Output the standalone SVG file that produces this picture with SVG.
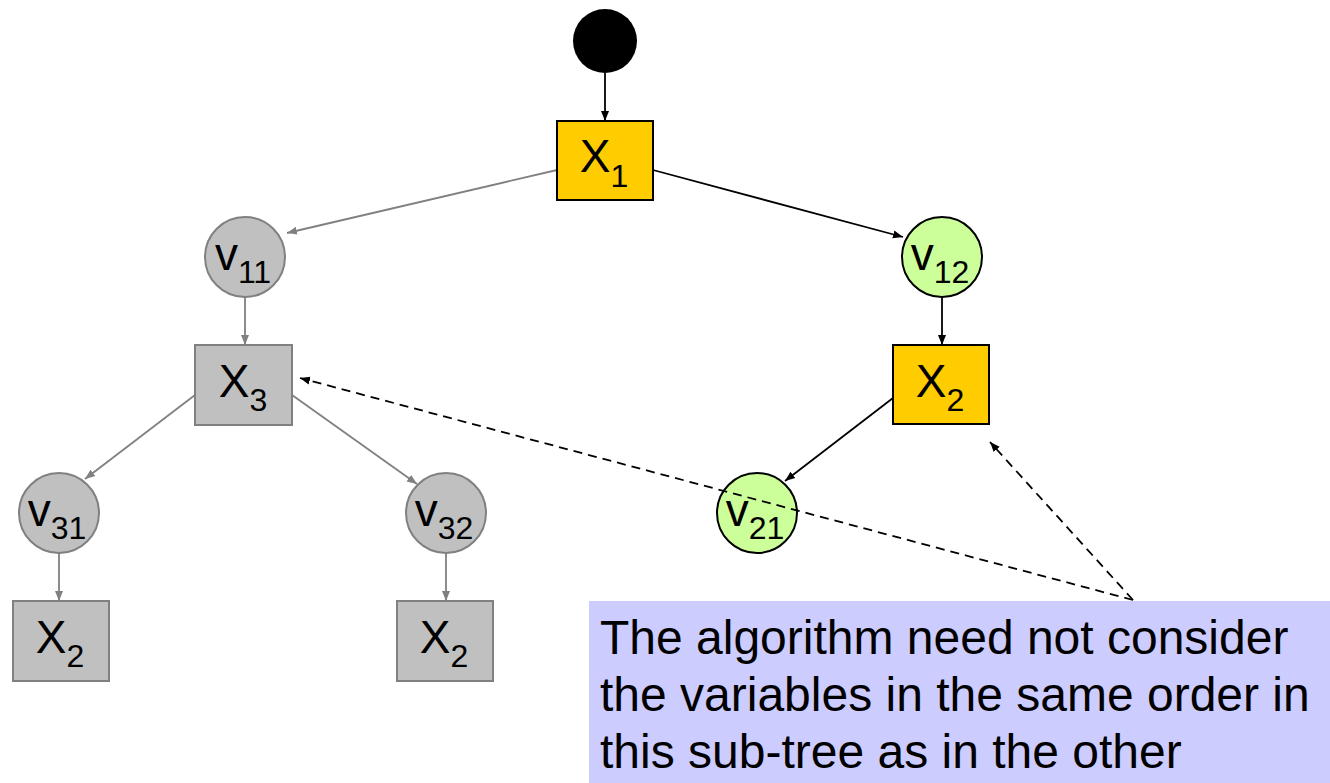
<svg xmlns="http://www.w3.org/2000/svg" width="1330" height="783" viewBox="0 0 1330 783">
  <defs>
    <style>
      .lbl { font-family: "Liberation Sans", Arial, sans-serif; font-size: 46px; fill: #000; text-anchor: middle; }
      .sub { font-size: 32px; }
      .box-y { fill: #FFCC00; stroke: #000; stroke-width: 2; }
      .box-g { fill: #C0C0C0; stroke: #808080; stroke-width: 2; }
      .val-g { fill: #C0C0C0; stroke: #808080; stroke-width: 2; }
      .val-y { fill: #CCFF99; stroke: #000; stroke-width: 2; }
      .edge-k { stroke: #000; stroke-width: 1.8; fill: none; marker-end: url(#ah-k); }
      .edge-g { stroke: #808080; stroke-width: 1.8; fill: none; marker-end: url(#ah-g); }
      .edge-d { stroke: #000; stroke-width: 1.8; fill: none; stroke-dasharray: 9 6; marker-end: url(#ah-k); }
      .note { font-family: "Liberation Sans", Arial, sans-serif; font-size: 48px; fill: #000; }
    </style>
    <marker id="ah-k" viewBox="0 0 10 10" refX="10" refY="5" markerWidth="10" markerHeight="10" markerUnits="userSpaceOnUse" orient="auto">
      <path d="M0,1 L10,5 L0,9 Z" fill="#000"/>
    </marker>
    <marker id="ah-g" viewBox="0 0 10 10" refX="10" refY="5" markerWidth="10" markerHeight="10" markerUnits="userSpaceOnUse" orient="auto">
      <path d="M0,1 L10,5 L0,9 Z" fill="#808080"/>
    </marker>
  </defs>

  <!-- tree edges -->
  <g id="connectors">
    <line class="edge-k" x1="605" y1="73" x2="605" y2="121"/>
    <line class="edge-g" x1="557" y1="170" x2="287" y2="233"/>
    <line class="edge-k" x1="653" y1="170" x2="903" y2="237"/>
    <line class="edge-g" x1="245" y1="297" x2="245" y2="345"/>
    <line class="edge-k" x1="942" y1="297" x2="942" y2="345"/>
    <line class="edge-g" x1="195" y1="395" x2="85" y2="479"/>
    <line class="edge-g" x1="292" y1="395" x2="417" y2="484"/>
    <line class="edge-k" x1="893" y1="398" x2="785" y2="481"/>
    <line class="edge-g" x1="59" y1="553" x2="59" y2="601"/>
    <line class="edge-g" x1="446" y1="553" x2="446" y2="601"/>
  </g>

  <g id="root">
    <circle cx="605" cy="41" r="32" fill="#000"/>
  </g>

  <g id="x1">
    <rect class="box-y" x="557" y="121" width="96" height="79"/>
    <text class="lbl" x="604" y="172">X<tspan class="sub" dy="15">1</tspan></text>
  </g>

  <g id="v11">
    <circle class="val-g" cx="245" cy="257" r="40"/>
    <text class="lbl" x="243" y="270">v<tspan class="sub" dy="13">11</tspan></text>
  </g>

  <g id="v12">
    <circle class="val-y" cx="942" cy="257" r="40"/>
    <text class="lbl" x="940" y="270">v<tspan class="sub" dy="13">12</tspan></text>
  </g>

  <g id="x3">
    <rect class="box-g" x="195" y="345" width="97" height="80"/>
    <text class="lbl" x="243" y="397">X<tspan class="sub" dy="14">3</tspan></text>
  </g>

  <g id="x2-right">
    <rect class="box-y" x="893" y="345" width="96" height="79"/>
    <text class="lbl" x="940" y="397">X<tspan class="sub" dy="14">2</tspan></text>
  </g>

  <g id="v31">
    <circle class="val-g" cx="59" cy="513" r="40"/>
    <text class="lbl" x="57" y="526">v<tspan class="sub" dy="13">31</tspan></text>
  </g>

  <g id="v32">
    <circle class="val-g" cx="446" cy="513" r="40"/>
    <text class="lbl" x="444" y="526">v<tspan class="sub" dy="13">32</tspan></text>
  </g>

  <g id="v21">
    <circle class="val-y" cx="757" cy="513" r="40"/>
    <text class="lbl" x="755" y="526">v<tspan class="sub" dy="13">21</tspan></text>
  </g>

  <g id="x2-left">
    <rect class="box-g" x="13" y="601" width="96" height="80"/>
    <text class="lbl" x="60" y="653">X<tspan class="sub" dy="14">2</tspan></text>
  </g>

  <g id="x2-mid">
    <rect class="box-g" x="397" y="601" width="96" height="80"/>
    <text class="lbl" x="444" y="653">X<tspan class="sub" dy="14">2</tspan></text>
  </g>

  <!-- dashed pointers from the callout, drawn over the nodes -->
  <g id="pointers">
    <line class="edge-d" x1="1133" y1="600" x2="300" y2="378"/>
    <line class="edge-d" x1="1133" y1="600" x2="990" y2="442"/>
  </g>

  <!-- explanatory callout -->
  <g id="note">
    <rect x="589" y="601" width="741" height="182" fill="#CCCCFF"/>
    <text class="note" x="600" y="654">The algorithm need not consider</text>
    <text class="note" x="600" y="711">the variables in the same order in</text>
    <text class="note" x="600" y="768">this sub-tree as in the other</text>
  </g>
</svg>
